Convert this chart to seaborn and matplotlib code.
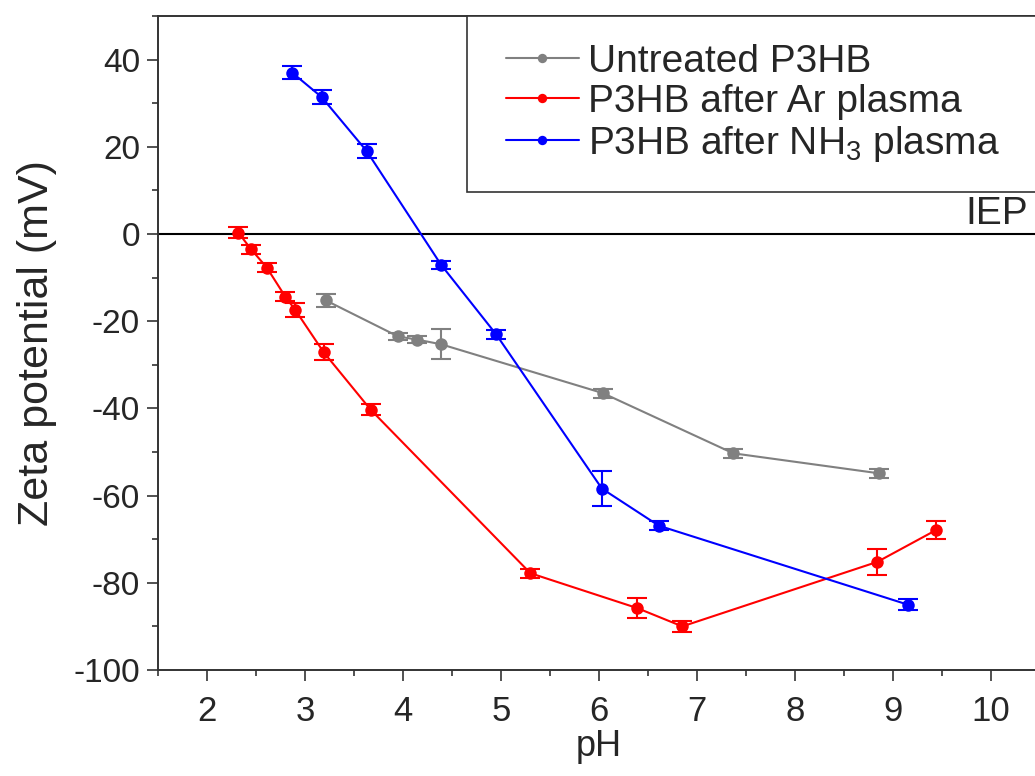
import numpy as np
import pandas as pd
import matplotlib
matplotlib.use('Agg')
from matplotlib import pyplot as plt
from matplotlib.ticker import MultipleLocator
from matplotlib.legend_handler import HandlerLine2D
import seaborn as sns

# zeta potential vs pH
ph_untreated = [3.21, 3.95, 4.14, 4.39, 6.04, 7.37, 8.86]
zeta_untreated = [-15.2, -23.5, -24.2, -25.3, -36.5, -50.3, -54.9]
err_untreated = [1.5, 0.8, 0.8, 3.4, 1.0, 1.0, 1.0]

ph_ar = [2.32, 2.45, 2.61, 2.80, 2.90, 3.19, 3.67, 5.30, 6.39, 6.85, 8.84, 9.44]
zeta_ar = [0.3, -3.5, -7.7, -14.4, -17.4, -27.1, -40.3, -77.8, -85.8, -90.0, -75.2, -67.9]
err_ar = [1.2, 1.0, 1.0, 1.0, 1.6, 1.8, 1.2, 1.0, 2.2, 1.2, 2.9, 2.0]

ph_nh3 = [2.87, 3.17, 3.63, 4.39, 4.95, 6.03, 6.61, 9.15]
zeta_nh3 = [37.0, 31.4, 19.0, -7.1, -23.0, -58.4, -66.9, -85.0]
err_nh3 = [1.5, 1.6, 1.6, 1.0, 1.0, 4.0, 1.0, 1.3]

labels = ['Untreated P3HB', 'P3HB after Ar plasma', 'P3HB after NH$_3$ plasma']
colors = ['#808080', '#ff0000', '#0000ff']

df = pd.concat([
    pd.DataFrame({'pH': ph_untreated, 'zeta': zeta_untreated, 'err': err_untreated, 'sample': labels[0]}),
    pd.DataFrame({'pH': ph_ar, 'zeta': zeta_ar, 'err': err_ar, 'sample': labels[1]}),
    pd.DataFrame({'pH': ph_nh3, 'zeta': zeta_nh3, 'err': err_nh3, 'sample': labels[2]}),
], ignore_index=True)

sns.set_theme(style='ticks')
plt.rcParams['font.family'] = ['Liberation Sans', 'DejaVu Sans']
plt.rcParams['mathtext.fontset'] = 'custom'
plt.rcParams['mathtext.rm'] = 'Liberation Sans'
plt.rcParams['mathtext.it'] = 'Liberation Sans:italic'
plt.rcParams['axes.unicode_minus'] = False

fig = plt.figure(figsize=(10.35, 7.76), dpi=100)
ax = fig.add_axes([158 / 1035, 1 - 670 / 776, (1040 - 158) / 1035, (670 - 16) / 776])

ax.axhline(0, color='black', lw=1.5, zorder=1)

palette = dict(zip(labels, colors))
sns.lineplot(data=df, x='pH', y='zeta', hue='sample', palette=palette, sort=False,
             marker='o', markersize=9, markeredgewidth=0, linewidth=1.5,
             estimator=None, ax=ax, zorder=3)

for lab in labels:
    d = df[df['sample'] == lab]
    ax.errorbar(d['pH'], d['zeta'], yerr=d['err'], fmt='none', ecolor=palette[lab],
                elinewidth=1.5, capsize=7, capthick=1.5, zorder=2)

ax.set_xlim(1.5, 10.5)
ax.set_ylim(-100, 50)
ax.xaxis.set_major_locator(MultipleLocator(1))
ax.xaxis.set_minor_locator(MultipleLocator(0.5))
ax.yaxis.set_major_locator(MultipleLocator(20))
ax.yaxis.set_minor_locator(MultipleLocator(10))
ax.tick_params(which='both', direction='out', width=1.2, color='#333333',
               labelsize=24, top=False, right=False)
ax.tick_params(axis='x', labelsize=25, pad=10)
ax.tick_params(axis='y', pad=5)
ax.tick_params(which='major', length=8)
ax.tick_params(which='minor', length=4.5)
for s in ax.spines.values():
    s.set_color('#333333')
    s.set_linewidth(1.4)

ax.set_xlabel('pH', fontsize=26, labelpad=1)
ax.set_ylabel('Zeta potential (mV)', fontsize=31, labelpad=12)

ax.text(10.38, 2.2, 'IEP', fontsize=28, ha='right', va='baseline')

handles, labs = ax.get_legend_handles_labels()
leg = ax.legend(handles[:3], labs[:3], loc='upper left', bbox_to_anchor=(0.35, 1.0, 0.72, 0.0),
                mode='expand', fontsize=28, frameon=True,
                fancybox=False, framealpha=1, edgecolor='#333333', borderaxespad=0,
                handlelength=2.16, handletextpad=0.23, labelspacing=0.1,
                markerscale=0.75, borderpad=0.72,
                handler_map={h: HandlerLine2D(xpad=0.28) for h in handles[:3]})
leg.get_frame().set_linewidth(1.2)

fig.savefig('out.png', dpi=100)
